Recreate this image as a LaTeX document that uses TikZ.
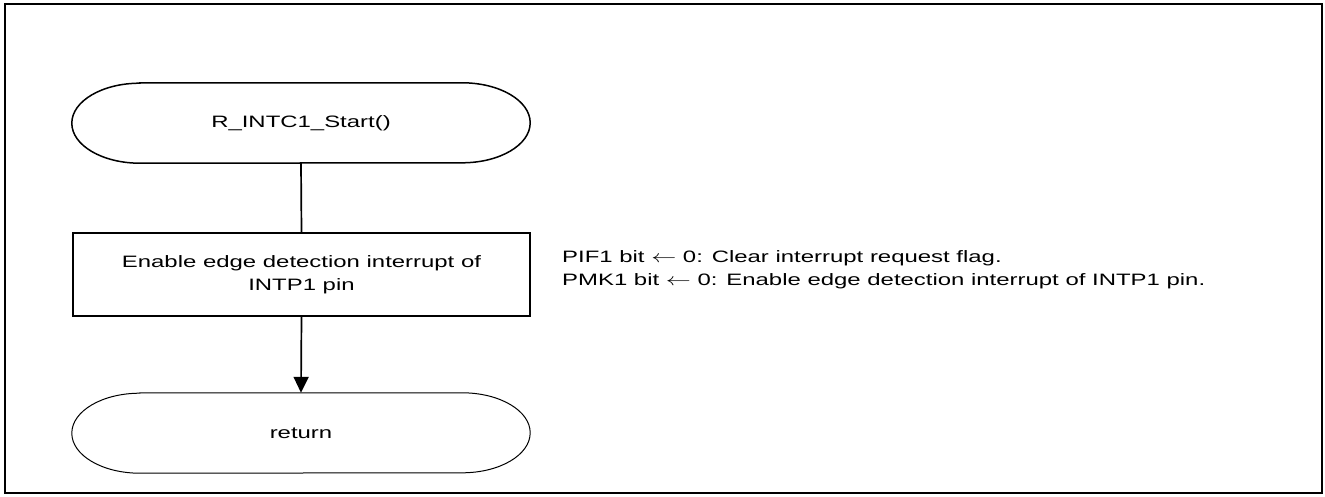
\documentclass[tikz,border=0pt]{standalone}
\usepackage{fontspec}
\setmainfont{Liberation Sans}
\usetikzlibrary{arrows.meta}
\newcommand{\hs}[1]{\scalebox{1.45}[1]{#1}}
\newcommand{\larr}{\ensuremath{\leftarrow}}
\tikzset{
  txt/.style={font=\fontsize{16.5}{23}\selectfont, inner sep=0pt},
  termbox/.style={txt, minimum width=458pt, minimum height=80pt},
  termline/.style={line width=1.5pt},
  procbox/.style={txt, draw, line width=1.7pt, minimum width=457pt, minimum height=83pt},
  conn/.style={line width=1.7pt},
  arr/.style={conn, -{Triangle[length=16pt, width=15pt]}},
  frame/.style={line width=2.7pt}
}
\begin{document}
\begin{tikzpicture}[x=1pt, y=1pt]
\useasboundingbox (0,0) rectangle (1325,496);
\draw[frame] (5,3) rectangle (1322,492);
% start terminal
\node[termbox] (start) at (301,373) {\hs{R\_INTC1\_Start()}};
\draw[termline] ([xshift=68pt]start.north west) -- ([xshift=-68pt]start.north east)
  arc[start angle=90, end angle=-90, x radius=68pt, y radius=40pt]
  -- ([xshift=68pt]start.south west)
  arc[start angle=270, end angle=90, x radius=68pt, y radius=40pt] -- cycle;
% process
\node[procbox] (proc) at (301.5,221.5) {\hs{\begin{tabular}{@{}c@{}}Enable edge detection interrupt of\\INTP1 pin\end{tabular}}};
% end terminal
\node[termbox] (stop) at (301,63) {\hs{return}};
\draw[line width=1pt] ([xshift=68pt]stop.north west) -- ([xshift=-68pt]stop.north east)
  arc[start angle=90, end angle=-90, x radius=68pt, y radius=40pt]
  -- ([xshift=68pt]stop.south west)
  arc[start angle=270, end angle=90, x radius=68pt, y radius=40pt] -- cycle;
% connectors
\draw[conn] (start.south) -- (proc.north);
\draw[arr] (proc.south) -- (stop.north);
% annotation
\node[txt, anchor=west] (note) at (562,227) {\hs{\begin{tabular}{@{}l@{}}PIF1 bit \larr{} 0: Clear interrupt request flag.\\PMK1 bit \larr{} 0: Enable edge detection interrupt of INTP1 pin.\end{tabular}}};
\end{tikzpicture}
\end{document}
